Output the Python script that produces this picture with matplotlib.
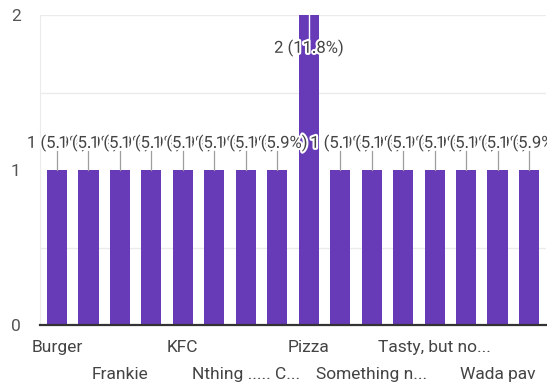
import matplotlib
matplotlib.use('Agg')
import matplotlib.pyplot as plt
import matplotlib.patheffects as pe
import numpy as np

# Responses per option
options = ['Burger', 'B', 'Frankie', 'F', 'KFC', 'K', 'Nthing ..... C...', 'N',
           'Pizza', 'P', 'Something n...', 'S', 'Tasty, but no...', 'T', 'Wada pav', 'W']
counts = [1, 1, 1, 1, 1, 1, 1, 1, 2, 1, 1, 1, 1, 1, 1, 1]
pct_labels = ['5.9%'] * 8 + ['11.8%'] + ['5.9%'] * 7
y_ticks = [0, 1, 2]

plt.rcParams['font.family'] = ['Roboto', 'DejaVu Sans']

PURPLE = '#673ab7'
TEXT = '#444444'

fig = plt.figure(figsize=(5.47, 3.84), dpi=100)
ax = fig.add_axes([40 / 547, 1 - 325 / 384, 506 / 547, 310 / 384])

x = np.arange(len(counts))
ax.bar(x, counts, width=0.64, color=PURPLE, zorder=2)

ax.set_xlim(-0.54, len(counts) - 0.46)
ax.set_ylim(0, 2)

# light gridlines every half unit
for g in [0.5, 1.5, 2.0]:
    ax.axhline(g, color='#ebebeb', lw=1, zorder=0)
ax.set_yticks(y_ticks)
ax.set_yticklabels([str(t) for t in y_ticks])

for s in ['top', 'right']:
    ax.spines[s].set_visible(False)
ax.spines['left'].set_color('#ebebeb')
ax.spines['bottom'].set_color('#333333')
ax.spines['bottom'].set_linewidth(1.6)
ax.spines['bottom'].set_zorder(3)

# labels on alternating rows: major ticks for the first row, minor for the second
row1 = [i for i in range(0, len(options), 4)]
row2 = [i for i in range(2, len(options), 4)]
ax.set_xticks(row1)
ax.set_xticklabels([options[i] for i in row1])
ax.set_xticks(row2, minor=True)
ax.set_xticklabels([options[i] for i in row2], minor=True)
ax.tick_params(axis='x', which='major', length=0, pad=11, labelsize=12.5, labelcolor=TEXT)
ax.tick_params(axis='x', which='minor', length=0, pad=30, labelsize=12.5, labelcolor=TEXT)
ax.tick_params(axis='y', length=0, pad=14, labelsize=12.5, labelcolor='#555555')

# value annotations with stems
halo = [pe.withStroke(linewidth=3, foreground='white')]
for i, (c, p) in enumerate(zip(counts, pct_labels)):
    if c >= 2:
        ax.plot([i, i], [c, 1.84], color='white', lw=1, zorder=3)
        ty = 1.787
    else:
        ax.plot([i, i], [c, c + 0.12], color='#9e9e9e', lw=0.9, zorder=3)
        ty = c + 0.174
    ax.text(i, ty, f'{c} ({p})', ha='center', va='center', fontsize=12,
            color=TEXT, path_effects=halo, zorder=4, clip_on=False)

fig.savefig('out.png', dpi=100)
